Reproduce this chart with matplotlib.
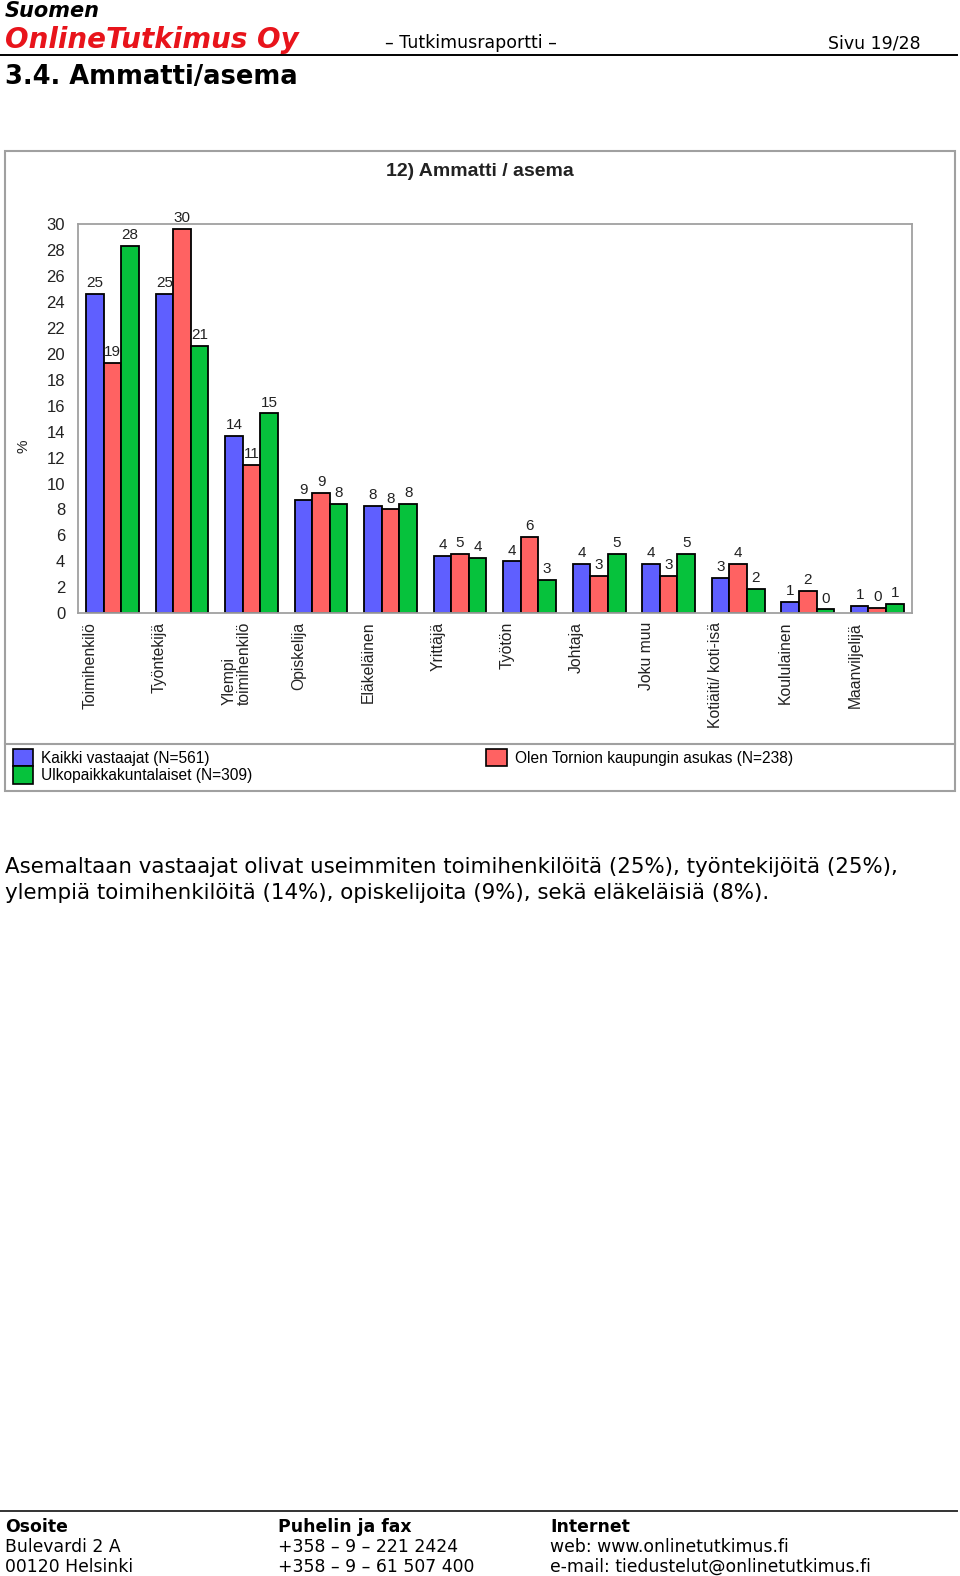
import matplotlib.pyplot as plt
from matplotlib.patches import Patch, Rectangle
from matplotlib.lines import Line2D
import numpy as np

W, H = 960, 1576

categories = [
    "Toimihenkilö", "Työntekijä", "Ylempi\ntoimihenkilö", "Opiskelija",
    "Eläkeläinen", "Yrittäjä", "Työtön", "Johtaja", "Joku muu",
    "Kotiäiti/ koti-isä", "Koululainen", "Maanviljelijä",
]
kaikki = [24.6, 24.6, 13.7, 8.7, 8.3, 4.4, 4.0, 3.8, 3.8, 2.7, 0.9, 0.6]
tornio = [19.3, 29.6, 11.4, 9.3, 8.0, 4.6, 5.9, 2.9, 2.9, 3.8, 1.7, 0.4]
ulko = [28.3, 20.6, 15.4, 8.4, 8.4, 4.3, 2.6, 4.6, 4.6, 1.9, 0.3, 0.7]

series_names = [
    "Kaikki vastaajat (N=561)",
    "Olen Tornion kaupungin asukas (N=238)",
    "Ulkopaikkakuntalaiset (N=309)",
]
colors = ["#5f5fff", "#ff6262", "#06c23c"]
yticks = list(range(0, 31, 2))


def fx(px):
    return px / W


def fy(py):
    return 1 - py / H


fig = plt.figure(figsize=(W / 100, H / 100), dpi=100)
fig.patch.set_facecolor("white")

# ---------- sivun otsake ----------
doc = "DejaVu Sans"
fig.text(fx(5), fy(11), "Suomen", fontsize=15, fontweight="bold",
         style="italic", family=doc, va="center", ha="left")
fig.text(fx(5), fy(40), "OnlineTutkimus Oy", fontsize=20, fontweight="bold",
         style="italic", family=doc, color="#e8141b", va="center", ha="left")
fig.text(fx(385), fy(43), "– Tutkimusraportti –", fontsize=12.5, family=doc,
         va="center", ha="left")
fig.text(fx(921), fy(43), "Sivu 19/28", fontsize=12.5, family=doc,
         va="center", ha="right")
fig.add_artist(Line2D([0, fx(957)], [fy(55), fy(55)], color="black", lw=1.4,
                      transform=fig.transFigure))
fig.text(fx(5), fy(77), "3.4. Ammatti/asema", fontsize=18.5, fontweight="bold",
         family=doc, va="center", ha="left")

# ---------- kaavion kehys ----------
fig.add_artist(Rectangle((fx(5), fy(791)), fx(950), 640 / H, fill=False,
                         edgecolor="#a0a0a0", lw=1.5, transform=fig.transFigure))
fig.add_artist(Line2D([fx(5), fx(955)], [fy(743.5), fy(743.5)],
                      color="#a0a0a0", lw=1.5, transform=fig.transFigure))

chart_font = "Liberation Sans"
fig.text(fx(480), fy(171), "12) Ammatti / asema", fontsize=14,
         fontweight="bold", family=chart_font, color="#222222",
         ha="center", va="center")

ax = fig.add_axes([fx(77.7), fy(613.3), fx(912 - 77.7), (613.3 - 224) / H])
x = np.arange(len(categories))
bw = 0.253
for k, (vals, col) in enumerate(zip([kaikki, tornio, ulko], colors)):
    pos = x + (k - 1) * bw
    ax.bar(pos, vals, width=bw, color=col, edgecolor="black", linewidth=1.3)
    for p, v in zip(pos, vals):
        ax.text(p, v + 0.3, f"{v:.0f}", ha="center", va="bottom",
                fontsize=11, family=chart_font, color="#222222")

ax.set_xlim(-0.5, len(categories) - 0.5)
ax.set_ylim(0, 30)
ax.set_yticks(yticks)
ax.set_yticklabels([str(t) for t in yticks], fontsize=12, family=chart_font,
                   color="#222222")
ax.tick_params(axis="y", length=0, pad=9)
ax.set_xticks([])
for s in ax.spines.values():
    s.set_color("#a0a0a0")
    s.set_linewidth(1.3)

for i, c in enumerate(categories):
    ax.text(i - 0.43, -0.022, c, rotation=90, ha="left", va="top",
            fontsize=11.3, family=chart_font, color="#222222",
            transform=ax.get_xaxis_transform(), linespacing=1.05)

fig.text(fx(24), fy(446), "%", rotation=90, fontsize=11, family=chart_font,
         ha="center", va="center", color="#222222")

# ---------- selite ----------
handles = [Patch(facecolor=c, edgecolor="black", lw=1.2) for c in colors]
leg_kw = dict(loc="upper left", frameon=False,
              prop={"family": chart_font, "size": 11.2},
              handlelength=1.3, handleheight=1.35, labelspacing=0.0,
              handletextpad=0.55, borderpad=0, borderaxespad=0)
fig.legend([handles[0], handles[2]], [series_names[0], series_names[2]],
           bbox_to_anchor=(fx(12.5), fy(749)), **leg_kw)
fig.legend([handles[1]], [series_names[1]],
           bbox_to_anchor=(fx(486.5), fy(749)), **leg_kw)

# ---------- leipäteksti ----------
fig.text(fx(5), fy(867),
         "Asemaltaan vastaajat olivat useimmiten toimihenkilöitä (25%), "
         "työntekijöitä (25%),", fontsize=15.4, family=doc, va="center")
fig.text(fx(5), fy(893),
         "ylempiä toimihenkilöitä (14%), opiskelijoita (9%), sekä "
         "eläkeläisiä (8%).", fontsize=15.4, family=doc, va="center")

# ---------- alatunniste ----------
fig.add_artist(Line2D([0, fx(957)], [fy(1511), fy(1511)], color="#333333",
                      lw=1.4, transform=fig.transFigure))
footer = [
    (5, ["Osoite", "Bulevardi 2 A", "00120 Helsinki"]),
    (278, ["Puhelin ja fax", "+358 – 9 – 221 2424", "+358 – 9 – 61 507 400"]),
    (550, ["Internet", "web: www.onlinetutkimus.fi",
           "e-mail: tiedustelut@onlinetutkimus.fi"]),
]
for xpos, lines in footer:
    for j, t in enumerate(lines):
        fig.text(fx(xpos), fy(1527 + 20 * j), t, fontsize=12.4, family=doc,
                 fontweight="bold" if j == 0 else "normal", va="center")

fig.savefig("out.png", dpi=100)
